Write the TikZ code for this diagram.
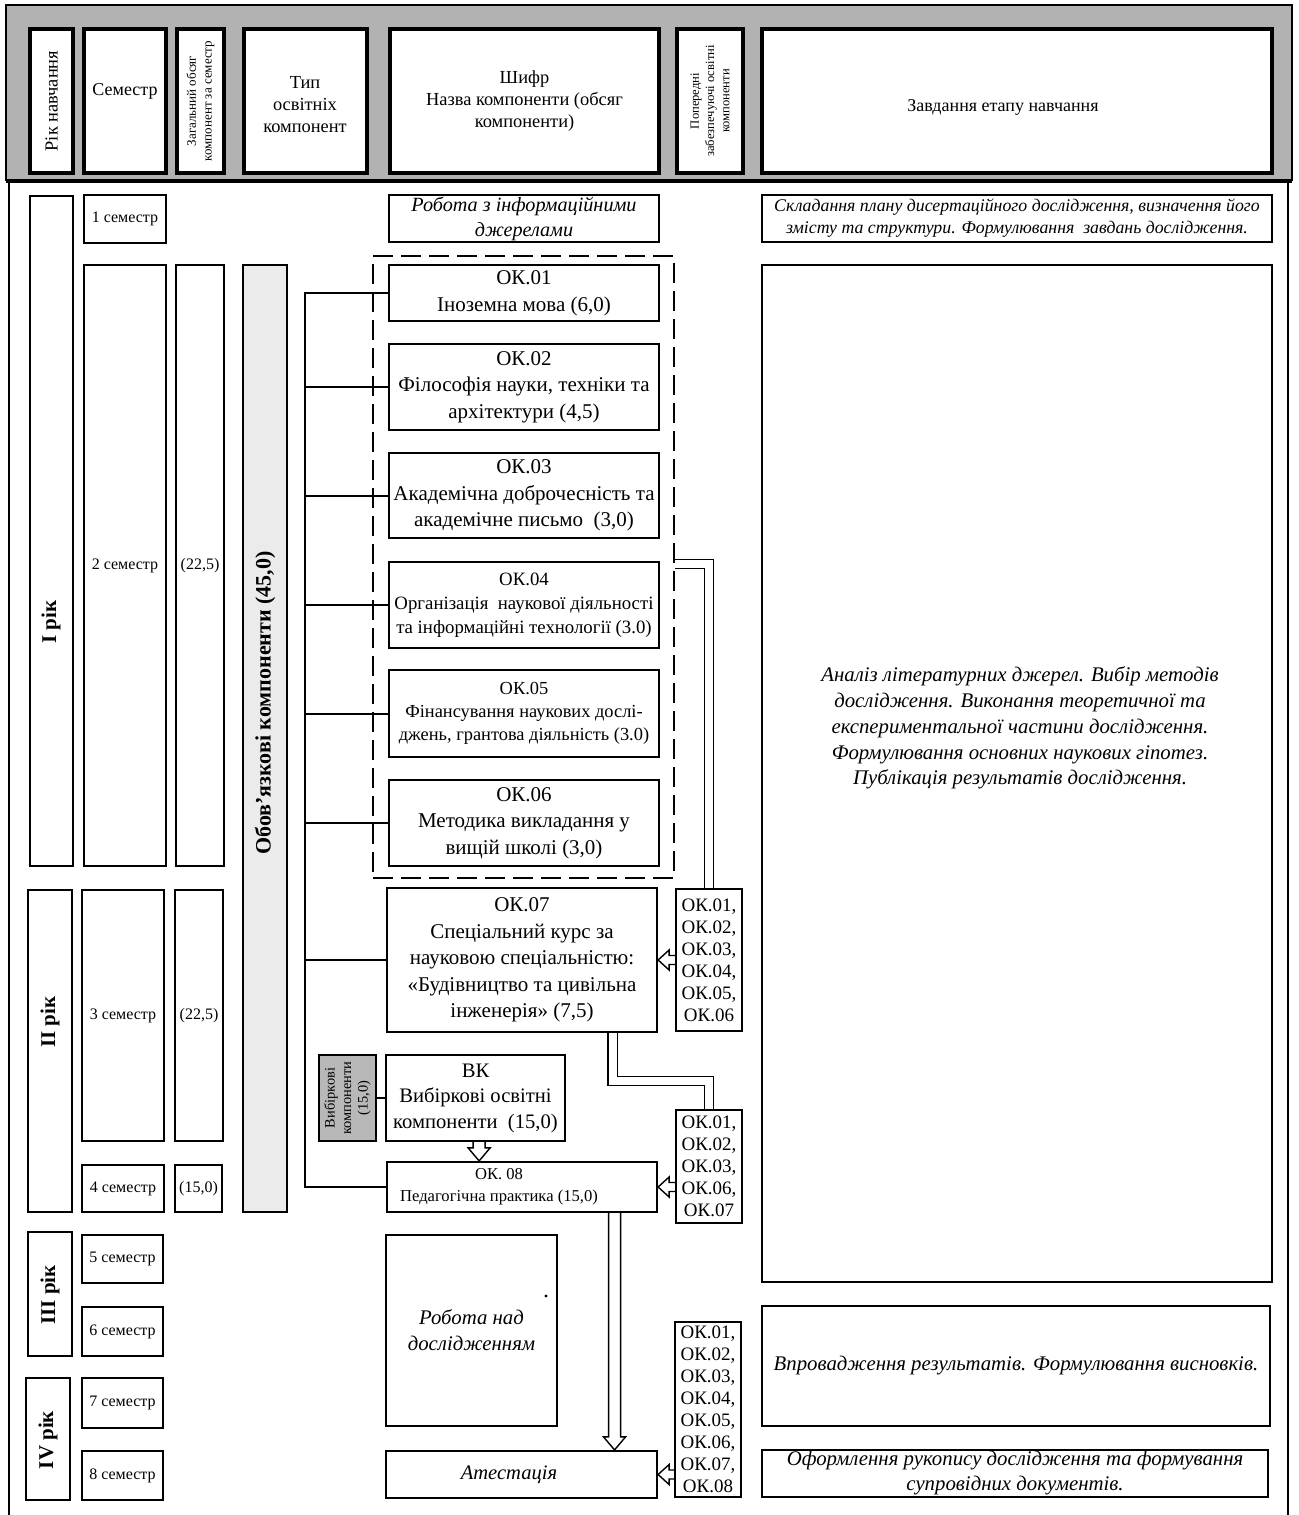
\documentclass[tikz,border=0pt]{standalone}
\usepackage{fontspec}
\setmainfont{Liberation Serif}
\usetikzlibrary{calc}
\newcommand\myfs[2]{\fontsize{#1}{#2}\selectfont}
\newcommand\bx[7][]{%
 \pgfmathsetmacro\bxcx{(#3+#5)/2}%
 \pgfmathsetmacro\bxcy{(#4+#6)/2}%
 \pgfmathsetmacro\bxw{(#5-#3)*0.5}%
 \pgfmathsetmacro\bxh{(#6-#4)*0.5}%
 \node[box,#1,minimum width=\bxw pt,minimum height=\bxh pt] (#2) at (\bxcx,\bxcy) {#7};}
\newcommand\harrowL[2]{\draw[arr] ($(#1)+(0,-4.5)$) -- ($(#2)+(11,-4.5)$) -- ($(#2)+(11,-10)$) -- (#2) -- ($(#2)+(11,10)$) -- ($(#2)+(11,4.5)$) -- ($(#1)+(0,4.5)$);}
\newcommand\harrowD[2]{\draw[arr] ($(#1)+(-6,0)$) -- ($(#2)+(-6,-13)$) -- ($(#2)+(-11,-13)$) -- (#2) -- ($(#2)+(11,-13)$) -- ($(#2)+(6,-13)$) -- ($(#1)+(6,0)$);}
\definecolor{hdrgrey}{gray}{0.70}
\definecolor{typegrey}{gray}{0.92}
\definecolor{vkgrey}{gray}{0.72}
\begin{document}
\begin{tikzpicture}[x=0.5pt,y=-0.5pt,
  box/.style={draw,line width=1.1pt,fill=white,inner sep=0pt,align=center,font=\myfs{10.5}{13.25}},
  hbox/.style={box,line width=1.6pt,font=\myfs{9.2}{11}},
  sembox/.style={box,font=\myfs{8}{10}},
  prbox/.style={box,line width=1pt,font=\myfs{9.5}{11}},
  taskbox/.style={box,line width=1pt,font=\itshape\myfs{10.4}{12.9}},
  conn/.style={line width=1pt},
  dbl/.style={double,double distance=4pt,line width=0.7pt},
  arr/.style={line width=0.7pt,line join=miter},
  rot/.style={rotate=90,align=center,inner sep=0pt}]
\useasboundingbox (0,0) rectangle (1298,1515);
% header band and frame
\fill[hdrgrey] (6,5) rectangle (1292,181);
\draw[line width=1.3pt] (6,181) -- (6,5) -- (1292,5) -- (1292,181);
\draw[line width=1.6pt] (6,181) -- (1292,181);
\draw[line width=1pt] (9,181) -- (9,1515);
\draw[line width=1pt] (1288,181) -- (1288,1515);
% header boxes
\bx[hbox]{h1}{30}{29}{73}{173}{}
\node[rot,font=\myfs{9.2}{11}] (h1t) at (h1) {Рік навчання};
\bx[hbox]{h2}{84}{29}{166}{173}{}
\node[font=\myfs{9}{11}] (h2t) at (125,91) {Семестр};
\bx[hbox]{h3}{177}{29}{224}{173}{}
\node[rot,font=\myfs{6.5}{7.8}] (h3t) at (h3) {Загальний обсяг\\компонент за семестр};
\bx[hbox]{h4}{244}{29}{367}{173}{}
\node[align=center,font=\myfs{9.2}{11}] (h4t) at (305,105) {Тип\\освітніх\\компонент};
\bx[hbox]{h5}{390}{29}{659}{173}{Шифр\\Назва компоненти (обсяг\\компоненти)}
\bx[hbox]{h6}{677}{29}{743}{173}{}
\node[rot,font=\myfs{6.3}{7.6}] (h6t) at (h6) {Попередні\\забезпечуючі освітні\\компоненти};
\bx[hbox]{h7}{762}{29}{1272}{173}{}
\node[font=\myfs{9}{11}] (h7t) at (1003,107) {Завдання етапу навчання};
% year boxes
\bx[box]{y1}{30}{196}{73}{866}{}
\node[rot,font=\bfseries\myfs{10.5}{12}] (y1t) at (51,622) {I рік};
\bx[box]{y2}{28}{890}{72}{1212}{}
\node[rot,font=\bfseries\myfs{10.5}{12}] (y2t) at (50,1022) {II рік};
\bx[box]{y3}{28}{1232}{72}{1356}{}
\node[rot,font=\bfseries\myfs{10.5}{12}] (y3t) at (50,1295) {III рік};
\bx[box]{y4}{26}{1378}{70}{1500}{}
\node[rot,font=\bfseries\myfs{10.5}{12}] (y4t) at (48,1440) {IV рік};
% semesters
\bx[sembox]{s1}{84}{195}{166}{243}{1 семестр}
\bx[sembox]{s2}{84}{265}{166}{866}{2 семестр}
\bx[sembox]{s3}{82}{890}{164}{1141}{3 семестр}
\bx[sembox]{s4}{82}{1165}{164}{1212}{4 семестр}
\bx[sembox]{s5}{82}{1235}{163}{1283}{5 семестр}
\bx[sembox]{s6}{82}{1307}{163}{1356}{6 семестр}
\bx[sembox]{s7}{82}{1378}{163}{1428}{7 семестр}
\bx[sembox]{s8}{82}{1451}{163}{1500}{8 семестр}
% volumes
\bx[sembox]{v2}{176}{265}{224}{866}{(22,5)}
\bx[sembox]{v3}{175}{890}{223}{1141}{(22,5)}
\bx[sembox]{v4}{175}{1165}{222}{1212}{(15,0)}
% type
\bx[box,fill=typegrey]{tp}{243}{265}{287}{1212}{}
\node[rot,font=\bfseries\myfs{11}{13}] (tpt) at (265,703) {Обов’язкові компоненти (45,0)};
% dashed group
\bx[box,fill=none,line width=0.9pt,dash pattern=on 10pt off 4pt]{dash}{373}{256}{674}{878}{}
% components
\bx[box,font=\itshape\myfs{10.1}{12.5}]{inf}{389}{195}{659}{242}{Робота з інформаційними\\джерелами}
\bx[box]{ok01}{389}{265}{659}{321}{ОК.01\\Іноземна мова (6,0)}
\bx[box]{ok02}{389}{344}{659}{430}{ОК.02\\Філософія науки, техніки та\\архітектури (4,5)}
\bx[box]{ok03}{389}{453}{659}{538}{ОК.03\\Академічна доброчесність та\\академічне письмо~ (3,0)}
\bx[box,font=\myfs{9.4}{12}]{ok04}{389}{562}{659}{648}{ОК.04\\Організація~ наукової діяльності\\та інформаційні технології (3.0)}
\bx[box,font=\myfs{9.2}{11.5}]{ok05}{389}{670}{659}{757}{ОК.05\\Фінансування наукових дослі-\\джень, грантова діяльність (3.0)}
\bx[box]{ok06}{389}{780}{659}{866}{ОК.06\\Методика викладання у\\вищій школі (3,0)}
\bx[box]{ok07}{387}{888}{657}{1032}{ОК.07\\Спеціальний курс за\\науковою спеціальністю:\\«Будівництво та цивільна\\інженерія» (7,5)}
\bx[box,fill=vkgrey,line width=1pt]{vkg}{319}{1055}{376}{1141}{}
\node[rot,font=\myfs{7.2}{8.2}] (vkgt) at (vkg) {Вибіркові\\компоненти\\(15,0)};
\bx[box,font=\myfs{10.3}{12.75}]{vk}{386}{1055}{565}{1141}{ВК\\Вибіркові освітні\\компоненти~ (15,0)}
\bx[box]{ok08}{387}{1162}{657}{1212}{}
\node[align=center,font=\myfs{8.3}{11}] (ok08t) at (499,1187) {ОК. 08\\Педагогічна практика (15,0)};
\bx[box,font=\itshape\myfs{10.4}{13}]{res}{386}{1235}{557}{1426}{Робота над\\дослідженням}
\bx[box]{att}{386}{1451}{657}{1498}{}
\node[font=\itshape\myfs{10.3}{13}] (attt) at (509,1475) {Атестація};
\fill (546,1296) circle (1.6);
% prerequisites
\bx[prbox]{p1}{676}{889}{742}{1031}{ОК.01,\\ОК.02,\\ОК.03,\\ОК.04,\\ОК.05,\\ОК.06}
\bx[prbox]{p2}{676}{1110}{742}{1223}{ОК.01,\\ОК.02,\\ОК.03,\\ОК.06,\\ОК.07}
\bx[prbox]{p3}{675}{1322}{741}{1497}{ОК.01,\\ОК.02,\\ОК.03,\\ОК.04,\\ОК.05,\\ОК.06,\\ОК.07,\\ОК.08}
% tasks
\bx[taskbox,font=\itshape\myfs{8.9}{11}]{t1}{762}{195}{1272}{242}{Складання плану дисертаційного дослідження, визначення його\\змісту та структури. Формулювання~ завдань дослідження.}
\bx[taskbox]{t2}{762}{265}{1272}{1282}{}
\node[align=center,font=\itshape\myfs{10.4}{12.9}] (t2t) at (1020,728) {Аналіз літературних джерел. Вибір методів\\дослідження. Виконання теоретичної та\\експериментальної частини дослідження.\\Формулювання основних наукових гіпотез.\\Публікація результатів дослідження.};
\bx[taskbox]{t3}{762}{1306}{1270}{1426}{Впровадження результатів. Формулювання висновків.}
\bx[taskbox,font=\itshape\myfs{10.4}{12.5}]{t4}{762}{1450}{1268}{1497}{Оформлення рукопису дослідження та формування\\супровідних документів.}
% tree
\coordinate (tr) at ($(ok01.west)+(-83,0)$);
\draw[conn] (ok01.west) -| (tr |- ok08.west) -- (ok08.west);
\foreach \n in {ok02,ok03,ok04,ok05,ok06,ok07} \draw[conn] (\n.west) -- (tr |- \n.west);
\draw[conn] (vkg.east) -- (vk.west);
% double connectors
\coordinate (k1) at ($(p1.north)+(0,-324)$);
\draw[dbl] (dash.east |- k1) -| (p1.north);
\coordinate (d2s) at ($(ok07.south west)!0.833!(ok07.south east)$);
\draw[dbl] (d2s) |- ($(p2.north)+(0,-28)$) -- (p2.north);
% hollow arrows
\coordinate (a1t) at (ok07.east |- p1.west);
\harrowL{p1.west}{a1t}
\coordinate (a2s) at (p2.west |- ok08.east);
\harrowL{a2s}{ok08.east}
\coordinate (a3s) at (p3.west |- att.east);
\harrowL{a3s}{att.east}
\coordinate (vks) at ($(vk.south west)!0.52!(vk.south east)$);
\coordinate (vkt) at (vks |- ok08.north);
\harrowD{vks}{vkt}
\coordinate (d3s) at ($(ok08.south west)!0.84!(ok08.south east)$);
\coordinate (d3t) at (d3s |- att.north);
\harrowD{d3s}{d3t}
\end{tikzpicture}
\end{document}
